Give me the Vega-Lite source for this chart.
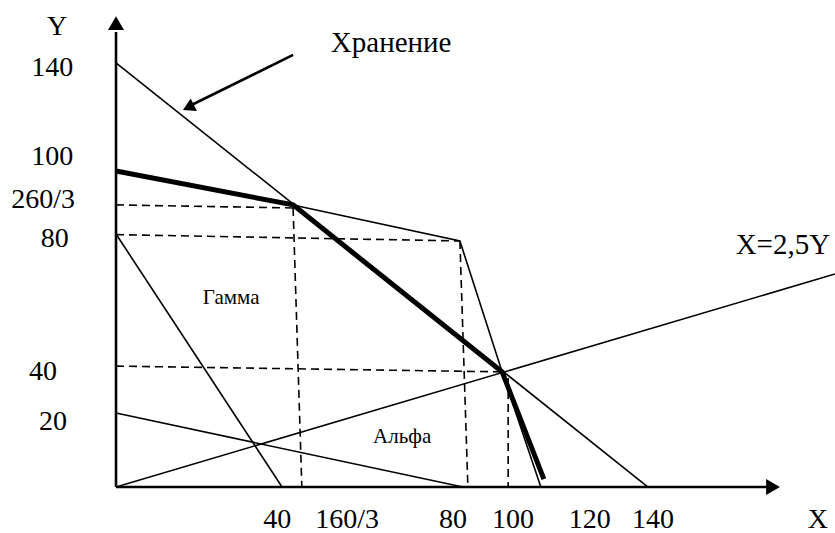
{
  "$schema": "https://vega.github.io/schema/vega-lite/v6.json",
  "width": 835,
  "height": 533,
  "autosize": {"type": "none"},
  "padding": 0,
  "background": "white",
  "config": {"view": {"stroke": null}},
  "datasets": {
    "thin": [
      {"id": "storage", "o": 0, "x": 0, "y": 140},
      {"id": "storage", "o": 1, "x": 140, "y": 0},
      {"id": "gamma", "o": 0, "x": 0, "y": 83.5},
      {"id": "gamma", "o": 1, "x": 43.7, "y": 0},
      {"id": "alpha", "o": 0, "x": 0, "y": 24.4},
      {"id": "alpha", "o": 1, "x": 91.3, "y": 0},
      {"id": "ratio", "o": 0, "x": 0, "y": 0},
      {"id": "ratio", "o": 1, "x": 189.2, "y": 70.3},
      {"id": "limit", "o": 0, "x": 46.6, "y": 93.1},
      {"id": "limit", "o": 1, "x": 90.5, "y": 81.2},
      {"id": "limit", "o": 2, "x": 101.6, "y": 38.0},
      {"id": "limit", "o": 3, "x": 111.8, "y": 0}
    ],
    "bold": [
      {"o": 0, "x": 0, "y": 104.3},
      {"o": 1, "x": 46.6, "y": 93.1},
      {"o": 2, "x": 101.6, "y": 38.0},
      {"o": 3, "x": 112.6, "y": 2.6}
    ],
    "dashed": [
      {"id": "h1", "o": 0, "x": 0, "y": 93.1},
      {"id": "h1", "o": 1, "x": 46.6, "y": 92.1},
      {"id": "v1", "o": 0, "x": 46.6, "y": 92.1},
      {"id": "v1", "o": 1, "x": 48.9, "y": 0},
      {"id": "h2", "o": 0, "x": 0, "y": 83.3},
      {"id": "h2", "o": 1, "x": 90.5, "y": 81.2},
      {"id": "v2", "o": 0, "x": 90.5, "y": 81.2},
      {"id": "v2", "o": 1, "x": 92.6, "y": 0},
      {"id": "h3", "o": 0, "x": 0, "y": 39.9},
      {"id": "h3", "o": 1, "x": 101.6, "y": 38.0},
      {"id": "v3", "o": 0, "x": 103.2, "y": 36.0},
      {"id": "v3", "o": 1, "x": 103.2, "y": 0}
    ],
    "axes": [
      {"id": "xaxis", "o": 0, "x": 0, "y": 0},
      {"id": "xaxis", "o": 1, "x": 171.6, "y": 0},
      {"id": "yaxis", "o": 0, "x": 0, "y": 0},
      {"id": "yaxis", "o": 1, "x": 0, "y": 150.2},
      {"id": "pointer", "o": 0, "x": 46.6, "y": 142.6},
      {"id": "pointer", "o": 1, "x": 19.6, "y": 125.9}
    ],
    "yhead": [{"x": 0, "y": 153.1}],
    "xhead": [{"x": 172.9, "y": 0}],
    "phead": [{"x": 19.05, "y": 125.3}],
    "ticks": [
      {"label": "Y", "x": -15.5, "y": 151.8},
      {"label": "140", "x": -16.8, "y": 138.3},
      {"label": "100", "x": -16.8, "y": 108.9},
      {"label": "260/3", "x": -19.2, "y": 94.7},
      {"label": "80", "x": -16.1, "y": 81.8},
      {"label": "40", "x": -19.2, "y": 38.0},
      {"label": "20", "x": -16.6, "y": 21.5},
      {"label": "40", "x": 42.4, "y": -10.8},
      {"label": "160/3", "x": 60.8, "y": -10.8},
      {"label": "80", "x": 88.7, "y": -10.8},
      {"label": "100", "x": 104.5, "y": -10.8},
      {"label": "120", "x": 124.7, "y": -10.8},
      {"label": "140", "x": 141.3, "y": -10.8},
      {"label": "X", "x": 184.7, "y": -10.8}
    ],
    "names": [
      {"label": "Хранение", "x": 72.4, "y": 146.5},
      {"label": "X=2,5Y", "x": 175.5, "y": 79.9}
    ],
    "regions": [
      {"label": "Гамма", "x": 30.3, "y": 62.4},
      {"label": "Альфа", "x": 75.3, "y": 16.5}
    ]
  },
  "encoding": {
    "x": {"field": "x", "type": "quantitative", "scale": {"domain": [-30.53, 189.21], "nice": false, "zero": false}, "axis": null},
    "y": {"field": "y", "type": "quantitative", "scale": {"domain": [-15.18, 160.73], "nice": false, "zero": false}, "axis": null}
  },
  "layer": [
    {
      "data": {"name": "dashed"},
      "mark": {"type": "line", "color": "black", "strokeWidth": 1.6, "strokeDash": [8, 5]},
      "encoding": {"detail": {"field": "id"}, "order": {"field": "o"}}
    },
    {
      "data": {"name": "thin"},
      "mark": {"type": "line", "color": "black", "strokeWidth": 1.6},
      "encoding": {"detail": {"field": "id"}, "order": {"field": "o"}}
    },
    {
      "data": {"name": "bold"},
      "mark": {"type": "line", "color": "black", "strokeWidth": 5},
      "encoding": {"order": {"field": "o"}}
    },
    {
      "data": {"name": "axes"},
      "mark": {"type": "line", "color": "black", "strokeWidth": 2.6},
      "encoding": {"detail": {"field": "id"}, "order": {"field": "o"}}
    },
    {
      "data": {"name": "yhead"},
      "mark": {"type": "point", "shape": "triangle-up", "filled": true, "size": 256, "color": "black", "opacity": 1, "strokeWidth": 0}
    },
    {
      "data": {"name": "xhead"},
      "mark": {"type": "point", "shape": "triangle-right", "filled": true, "size": 256, "color": "black", "opacity": 1, "strokeWidth": 0}
    },
    {
      "data": {"name": "phead"},
      "mark": {"type": "point", "shape": "triangle-right", "angle": 153.4, "filled": true, "size": 196, "color": "black", "opacity": 1, "strokeWidth": 0}
    },
    {
      "data": {"name": "ticks"},
      "mark": {"type": "text", "font": "Liberation Serif", "fontSize": 28, "align": "center", "baseline": "middle", "color": "black"},
      "encoding": {"text": {"field": "label"}}
    },
    {
      "data": {"name": "names"},
      "mark": {"type": "text", "font": "Liberation Serif", "fontSize": 29, "align": "center", "baseline": "middle", "color": "black"},
      "encoding": {"text": {"field": "label"}}
    },
    {
      "data": {"name": "regions"},
      "mark": {"type": "text", "font": "Liberation Serif", "fontSize": 21, "align": "center", "baseline": "middle", "color": "black"},
      "encoding": {"text": {"field": "label"}}
    }
  ]
}
